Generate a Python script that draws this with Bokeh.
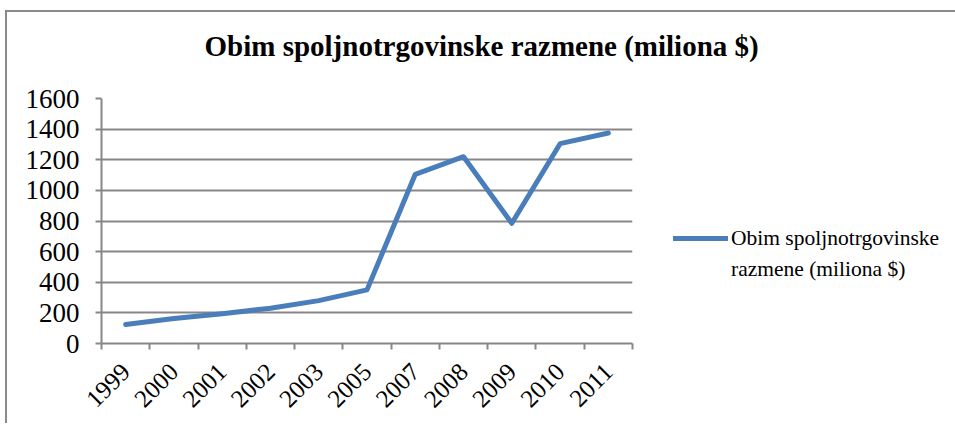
import math
from bokeh.plotting import figure
from bokeh.models import (FixedTicker, Range1d, Legend, LegendItem, Title)
from bokeh.embed import file_html
from bokeh.resources import INLINE

years = ["1999", "2000", "2001", "2002", "2003", "2005", "2007", "2008", "2009", "2010", "2011"]
values = [124, 163, 195, 230, 280, 350, 1105, 1220, 785, 1305, 1375]
y_ticks = [0, 200, 400, 600, 800, 1000, 1200, 1400, 1600]
title_text = "Obim spoljnotrgovinske razmene (miliona $)"
legend_line1 = "Obim spoljnotrgovinske"
legend_line2 = "razmene (miliona $)"

FONT = "Liberation Serif"
GRAY = "#878787"
BLUE = "#4A7EBB"

p = figure(frame_width=531, frame_height=245, output_backend="svg", toolbar_location=None,
           x_range=Range1d(0, len(years)), y_range=Range1d(0, 1600),
           min_border_left=94, min_border_right=310,
           min_border_top=86, min_border_bottom=80)
p.margin = (10, 0, 0, 5)
p.outline_line_color = None
p.background_fill_color = "white"
p.border_fill_color = "white"
p.styles = {"border-left": "2px solid #8a8a8a", "border-top": "2px solid #8a8a8a"}

xs = [i + 0.5 for i in range(len(years))]
r = p.line(xs, values, line_color=BLUE, line_width=5, line_join="round", line_cap="round")
r_blank = p.line(xs, values, line_alpha=0)

# x axis: labels at category centers, ticks at boundaries (minor ticks)
p.xaxis.ticker = FixedTicker(ticks=xs, minor_ticks=list(range(len(years) + 1)))
p.xaxis.major_label_overrides = {x: y for x, y in zip(xs, years)}
p.xaxis.major_tick_line_color = None
p.xaxis.major_tick_out = 6
p.xaxis.minor_tick_line_color = GRAY
p.xaxis.minor_tick_line_width = 2
p.xaxis.minor_tick_out = 6
p.xaxis.minor_tick_in = 0
p.xaxis.major_label_orientation = math.pi / 4
p.xaxis.major_label_standoff = 18
p.xaxis.major_label_text_font = FONT
p.xaxis.major_label_text_font_size = "25px"
p.xaxis.major_label_text_color = "black"
p.xaxis.axis_line_color = GRAY
p.xaxis.axis_line_width = 2

p.yaxis.ticker = FixedTicker(ticks=y_ticks, minor_ticks=[])
p.yaxis.major_tick_line_color = GRAY
p.yaxis.major_tick_line_width = 2
p.yaxis.major_tick_out = 6
p.yaxis.major_tick_in = 0
p.yaxis.major_label_standoff = 16
p.yaxis.major_label_text_font = FONT
p.yaxis.major_label_text_font_size = "27px"
p.yaxis.major_label_text_color = "black"
p.yaxis.axis_line_color = GRAY
p.yaxis.axis_line_width = 2

p.xgrid.grid_line_color = None
p.ygrid.grid_line_color = GRAY
p.ygrid.grid_line_width = 2
p.ygrid.ticker = FixedTicker(ticks=y_ticks)

legend = Legend(items=[LegendItem(label=legend_line1, renderers=[r]),
                       LegendItem(label=legend_line2, renderers=[r_blank])],
                location=(41, 61), glyph_width=55, glyph_height=26,
                label_height=26, label_standoff=3, padding=0, margin=0, spacing=5,
                border_line_color=None, background_fill_alpha=0,
                label_text_font=FONT, label_text_font_size="21.5px",
                label_text_color="black")
p.add_layout(legend, "right")

p.add_layout(Title(text=" ", text_font_size="18px"), "above")
p.add_layout(Title(text=title_text, align="left", offset=103,
                   text_font=FONT, text_font_size="29px", text_font_style="bold",
                   text_color="black"), "above")

open("out.html", "w").write(file_html(p, INLINE))
